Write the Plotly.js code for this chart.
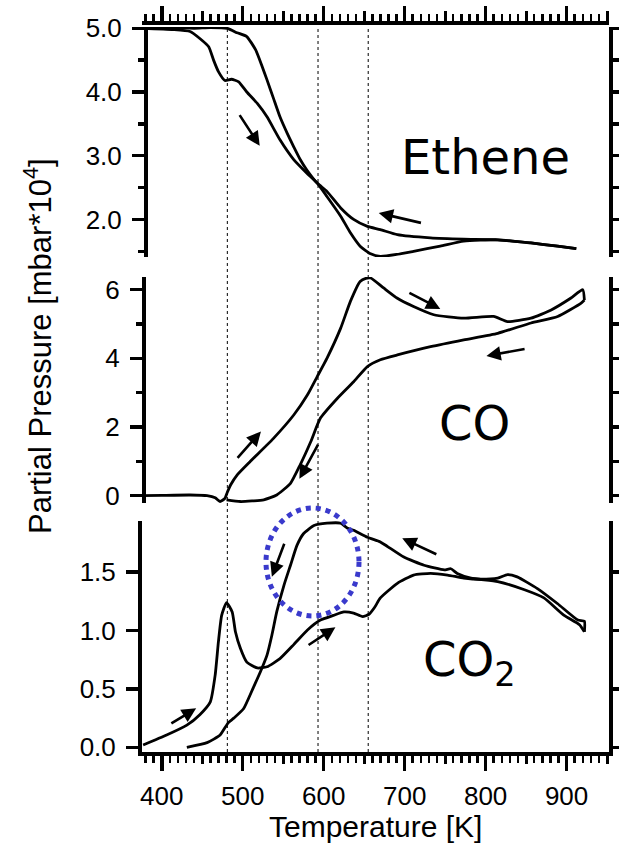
<!DOCTYPE html>
<html><head><meta charset="utf-8">
<script src="https://cdn.plot.ly/plotly-3.0.1.min.js"></script>
<style>html,body{margin:0;padding:0;background:#fff}#chart{width:619px;height:844px}</style>
</head><body><div id="chart"></div>
<script>
// ---------- data (Temperature in K, partial pressure in mbar*10^4) ----------
const ethHeatT = [375, 414, 435, 447, 458, 464, 470, 478, 486, 495, 505, 518, 530, 546, 563, 579, 592, 604, 621, 633, 645, 658, 670, 690, 711, 744, 773, 815, 856, 889, 912];
const ethHeatP = [5.00, 4.98, 4.95, 4.84, 4.71, 4.50, 4.32, 4.18, 4.20, 4.16, 4.00, 3.82, 3.61, 3.25, 2.94, 2.73, 2.57, 2.36, 2.05, 1.79, 1.58, 1.46, 1.42, 1.45, 1.50, 1.58, 1.66, 1.68, 1.63, 1.58, 1.54];
const ethCoolT = [912, 889, 856, 815, 773, 732, 691, 670, 654, 637, 621, 604, 592, 579, 571, 563, 555, 546, 538, 530, 524, 516, 505, 493, 481, 460, 440, 420, 400, 375];
const ethCoolP = [1.54, 1.58, 1.63, 1.68, 1.69, 1.71, 1.76, 1.84, 1.89, 2.00, 2.18, 2.44, 2.57, 2.78, 2.94, 3.14, 3.35, 3.61, 3.90, 4.19, 4.40, 4.66, 4.87, 4.93, 5.00, 5.01, 5.00, 5.01, 5.00, 5.00];

const coHeatT = [375, 400, 435, 456, 466, 472, 478, 481, 485, 493, 509, 538, 563, 580, 592, 604, 621, 633, 645, 652, 658, 674, 691, 711, 736, 773, 810, 827, 856, 881, 905, 920, 922];
const coHeatP = [0.00, 0.01, 0.02, 0.00, -0.06, -0.17, -0.08, 0.10, 0.31, 0.60, 0.99, 1.67, 2.35, 2.94, 3.47, 4.00, 4.88, 5.66, 6.24, 6.33, 6.34, 6.05, 5.75, 5.51, 5.27, 5.17, 5.22, 5.07, 5.17, 5.41, 5.75, 6.00, 5.70];
const coCoolT = [922, 918, 889, 856, 815, 773, 732, 691, 670, 654, 637, 617, 596, 584, 571, 559, 542, 526, 497, 480];
const coCoolP = [5.70, 5.61, 5.22, 5.03, 4.73, 4.54, 4.34, 4.10, 3.96, 3.76, 3.32, 2.84, 2.26, 1.57, 0.90, 0.36, 0.02, -0.12, -0.17, -0.12];

const co2HeatT = [377, 406, 431, 447, 460, 466, 470, 474, 480, 487, 491, 497, 505, 518, 530, 546, 563, 580, 596, 612, 625, 637, 648, 656, 663, 670, 691, 711, 732, 753, 773, 794, 815, 827, 839, 864, 889, 914, 922, 922];
const co2HeatP = [0.02, 0.105, 0.19, 0.28, 0.39, 0.62, 0.905, 1.13, 1.24, 1.16, 0.99, 0.85, 0.73, 0.68, 0.69, 0.76, 0.88, 1.005, 1.09, 1.13, 1.16, 1.15, 1.12, 1.14, 1.20, 1.28, 1.405, 1.476, 1.49, 1.476, 1.45, 1.44, 1.45, 1.48, 1.46, 1.36, 1.23, 1.09, 1.08, 0.99];
const co2CoolT = [922, 916, 897, 872, 848, 815, 782, 765, 757, 749, 724, 699, 679, 670, 654, 637, 629, 621, 604, 588, 575, 567, 559, 551, 542, 536, 530, 522, 513, 501, 489, 482, 472, 456, 431];
const co2CoolP = [0.99, 1.05, 1.13, 1.28, 1.35, 1.42, 1.45, 1.49, 1.53, 1.52, 1.56, 1.63, 1.72, 1.76, 1.80, 1.86, 1.88, 1.92, 1.92, 1.90, 1.83, 1.73, 1.56, 1.39, 1.16, 0.96, 0.79, 0.65, 0.51, 0.33, 0.25, 0.21, 0.105, 0.04, 0.00];

// vertical reference temperatures (dotted lines)
const markerTemps = [481, 593, 655];
// arrows: [head T, head P, tail T, tail P]
const ethArrows = [[521, 3.155, 495, 3.66], [668, 2.10, 722, 1.94]];
const coArrows = [[522.5, 1.87, 492, 1.06], [570, 0.49, 594, 1.53], [744, 5.44, 704, 5.93], [801, 4.07, 850, 4.28]];
const co2Arrows = [[442.5, 0.334, 410, 0.197], [614.5, 1.028, 579.5, 0.868], [536, 1.462, 552, 1.757], [697, 1.791, 741, 1.648]];
const mediumTicks = [450, 550, 650, 750, 850, 950];

// ---------- layout helpers ----------
const W = 619, H = 844;
const px = v => v / W;
const py = v => 1 - v / H;
const xRange = [375.6, 952.4];
const xDomain = [px(142), px(609)];
const font = 'Liberation Sans, Arial, sans-serif';
const tickFont = {family: font, size: 26, color: 'black'};
const line = {color: 'black', width: 2.8, shape: 'spline', smoothing: 0.5};

const traces = [
  {x: ethHeatT, y: ethHeatP, xaxis: 'x', yaxis: 'y'},
  {x: ethCoolT, y: ethCoolP, xaxis: 'x', yaxis: 'y'},
  {x: coHeatT, y: coHeatP, xaxis: 'x', yaxis: 'y2'},
  {x: coCoolT, y: coCoolP, xaxis: 'x', yaxis: 'y2'},
  {x: co2HeatT, y: co2HeatP, xaxis: 'x', yaxis: 'y3'},
  {x: co2CoolT, y: co2CoolP, xaxis: 'x', yaxis: 'y3'}
].map(t => Object.assign(t, {type: 'scatter', mode: 'lines', line: line, hoverinfo: 'skip'}));
// helper (empty) traces so the extra axes exist
[['x2', 'y'], ['x3', 'y3'], ['x4', 'y'], ['x', 'y4'], ['x', 'y5'], ['x', 'y6']].forEach(([xa, ya]) =>
  traces.push({type: 'scatter', mode: 'lines', x: [], y: [], xaxis: xa, yaxis: ya, hoverinfo: 'skip'}));

const axBase = {showgrid: false, zeroline: false, showline: true, linecolor: 'black', ticks: 'outside', tickcolor: 'black'};
const xMain = Object.assign({}, axBase, {
  range: xRange, domain: xDomain, linewidth: 3.5, tick0: 400, dtick: 100, ticklen: 15, tickwidth: 3.5,
  minor: {ticks: 'outside', tick0: 400, dtick: 10, ticklen: 7, tickwidth: 2.5, tickcolor: 'black', showgrid: false}
});
const xMed = {range: xRange, showgrid: false, zeroline: false, showline: false, ticks: 'outside', tickcolor: 'black',
  tickmode: 'array', tickvals: mediumTicks, ticklen: 11, tickwidth: 3, showticklabels: false};
const yLeft = Object.assign({}, axBase, {linewidth: 4, ticklen: 12, tickwidth: 3.5, tickfont: tickFont, ticklabelstandoff: 5});
const yRight = Object.assign({}, axBase, {linewidth: 4, ticklen: 8, tickwidth: 3.5, showticklabels: false, side: 'right', anchor: 'x'});

// panel pixel spans chosen so the axis scales match the reference
const dTop = [py(257), py(27)], dMid = [py(503), py(277)], dBot = [py(752), py(521)];
const rTop = [1.41, 5.02], rMid = [-0.213, 6.37], rBot = [-0.04, 1.939];

const annotations = [];
const addArrows = (list, yref) => list.forEach(a => annotations.push({
  xref: 'x', yref: yref, axref: 'x', ayref: yref, x: a[0], y: a[1], ax: a[2], ay: a[3], text: '',
  showarrow: true, arrowhead: 2, arrowsize: 1.1, arrowwidth: 2.6, arrowcolor: 'black', standoff: 0, startstandoff: 0
}));
addArrows(ethArrows, 'y');
addArrows(coArrows, 'y2');
addArrows(co2Arrows, 'y3');
const labelFont = {family: 'Comic Sans MS, DejaVu Sans, sans-serif', size: 48, color: 'black'};
annotations.push(
  {xref: 'paper', yref: 'paper', x: px(486), y: py(157), text: 'Ethene', showarrow: false, font: labelFont, xanchor: 'center', yanchor: 'middle'},
  {xref: 'paper', yref: 'paper', x: px(474), y: py(423), text: 'CO', showarrow: false, font: labelFont, xanchor: 'center', yanchor: 'middle'},
  {xref: 'paper', yref: 'paper', x: px(469), y: py(662), text: 'CO<sub>2</sub>', showarrow: false, font: labelFont, xanchor: 'center', yanchor: 'middle'},
  {xref: 'paper', yref: 'paper', x: px(375), y: py(826), text: 'Temperature [K]', showarrow: false, font: {family: font, size: 30, color: 'black'}, xanchor: 'center', yanchor: 'middle'},
  {xref: 'paper', yref: 'paper', x: px(38), y: py(346), text: 'Partial Pressure [mbar*10<sup>4</sup>]', textangle: -90, showarrow: false, font: {family: font, size: 31, color: 'black'}, xanchor: 'center', yanchor: 'middle'}
);

const shapes = markerTemps.map(t => ({type: 'line', xref: 'x', yref: 'paper', x0: t, x1: t, y0: py(752), y1: py(27),
  line: {color: 'black', width: 1, dash: 'dot'}, layer: 'below'}));
shapes.push({type: 'circle', xref: 'paper', yref: 'paper', x0: px(266), x1: px(359), y0: py(616), y1: py(508),
  line: {color: '#3a3acc', width: 5, dash: 'dot'}});

const layout = {
  width: W, height: H, margin: {l: 0, r: 0, t: 0, b: 0}, paper_bgcolor: 'white', plot_bgcolor: 'rgba(0,0,0,0)',
  showlegend: false, hovermode: false,
  xaxis: Object.assign({}, xMain, {anchor: 'y3', side: 'bottom', tickfont: tickFont, ticklabelstandoff: 3}),
  xaxis2: Object.assign({}, xMain, {overlaying: 'x', anchor: 'free', position: py(22), side: 'top', showticklabels: false}),
  xaxis3: Object.assign({}, xMed, {overlaying: 'x', anchor: 'y3', side: 'bottom'}),
  xaxis4: Object.assign({}, xMed, {overlaying: 'x', anchor: 'free', position: py(22), side: 'top'}),
  yaxis: Object.assign({}, yLeft, {domain: dTop, range: rTop, anchor: 'free', position: px(146), tick0: 0, dtick: 1, tickformat: '.1f',
    minor: {ticks: 'outside', dtick: 0.5, ticklen: 6, tickwidth: 3.5, tickcolor: 'black', showgrid: false}}),
  yaxis2: Object.assign({}, yLeft, {domain: dMid, range: rMid, anchor: 'free', position: px(144), tick0: 0, dtick: 2,
    minor: {ticks: 'outside', dtick: 1, ticklen: 6, tickwidth: 3.5, tickcolor: 'black', showgrid: false}}),
  yaxis3: Object.assign({}, yLeft, {domain: dBot, range: rBot, anchor: 'x', tick0: 0, dtick: 0.5, tickformat: '.1f'}),
  yaxis4: Object.assign({}, yRight, {overlaying: 'y', range: rTop, tick0: 0, dtick: 0.5}),
  yaxis5: Object.assign({}, yRight, {overlaying: 'y2', range: rMid, tick0: 0, dtick: 1}),
  yaxis6: Object.assign({}, yRight, {overlaying: 'y3', range: rBot, tick0: 0, dtick: 0.5}),
  annotations: annotations,
  shapes: shapes
};

Plotly.newPlot('chart', traces, layout, {staticPlot: true, displayModeBar: false});
</script>
</body></html>
